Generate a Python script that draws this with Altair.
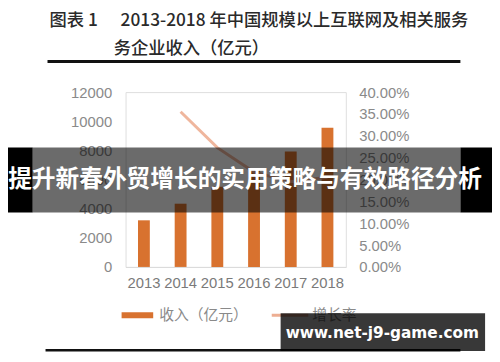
import altair as alt
import pandas as pd

years = ["2013", "2014", "2015", "2016", "2017", "2018"]
revenue = [3200, 4340, 5500, 6650, 7930, 9560]
growth_years = ["2014", "2015", "2016", "2017", "2018"]
growth = [0.355, 0.273, 0.217, 0.195, 0.205]

title_label = "图表 1"
title_line1 = "2013-2018 年中国规模以上互联网及相关服务"
title_line2 = "务企业收入（亿元）"
legend_labels = ["收入（亿元）", "增长率"]
banner_text = "提升新春外贸增长的实用策略与有效路径分析"
watermark_text = "www.net-j9-game.com"

BAR = "#D8722F"
LINE = "#EDAE92"
LABEL = "#8a8a8a"

bars_df = pd.DataFrame({"year": years, "revenue": revenue})
line_df = pd.DataFrame({"year": growth_years, "growth": growth})
one = pd.DataFrame({"k": [0]})

W, H = 223, 177

xenc = alt.X("year:N", sort=years, title=None,
             scale=alt.Scale(paddingInner=0, paddingOuter=0),
             axis=alt.Axis(labelAngle=0, ticks=False, domainColor="#d9d9d9",
                           labelFontSize=15, labelColor="#7a7a7a",
                           labelFont="Liberation Sans", labelPadding=9))

bars = alt.Chart(bars_df).mark_bar(size=12, color=BAR).encode(
    x=xenc,
    y=alt.Y("revenue:Q", title=None,
            scale=alt.Scale(domain=[0, 12000], nice=False),
            axis=alt.Axis(values=[0, 2000, 4000, 6000, 8000, 10000, 12000],
                          format="d",
                          grid=False, ticks=False, domain=False,
                          labelFontSize=15, labelColor=LABEL,
                          labelFont="Liberation Sans", labelPadding=14)),
)

line = alt.Chart(line_df).mark_line(color=LINE, strokeWidth=3, opacity=0.9).encode(
    x=alt.X("year:N", sort=years),
    y=alt.Y("growth:Q", title=None,
            scale=alt.Scale(domain=[0, 0.4], nice=False),
            axis=alt.Axis(orient="right", values=[0, 0.05, 0.1, 0.15, 0.2, 0.25, 0.3, 0.35, 0.4],
                          format=".2%", grid=False, ticks=False, domain=False,
                          labelFontSize=15, labelColor=LABEL,
                          labelFont="Liberation Sans", labelPadding=13)),
)

def txt(text, x, y, **kw):
    return alt.Chart(one).mark_text(text=text, **kw).encode(
        x=alt.value(x), y=alt.value(y))

def rect(x, x2, y, y2, **kw):
    return alt.Chart(one).mark_rect(**kw).encode(
        x=alt.value(x), x2=alt.value(x2), y=alt.value(y), y2=alt.value(y2))

# plot origin is at page (127, 91)
ox, oy = 127, 91

tstyle = dict(align="left", baseline="middle", font="Noto Sans CJK SC",
              fontSize=17.5, fontWeight=500, color="#2a2a2a")
title0 = txt(title_label, 50 - ox, 19.5 - oy, **tstyle)
title1 = txt(title_line1, 122 - ox, 19.5 - oy, **tstyle)
title2 = txt(title_line2, 115 - ox, 47 - oy, **tstyle)
top_rule = rect(48 - ox, 466 - ox, 58.5 - oy, 61.5 - oy, color="#111111")
bottom_rule = rect(46 - ox, 466 - ox, 351 - oy, 353.5 - oy, color="#111111")

leg_bar = rect(123 - ox, 155 - ox, 314 - oy, 320 - oy, color=BAR)
leg_bar_t = txt(legend_labels[0], 161 - ox, 317 - oy, align="left", baseline="middle",
                font="Noto Sans CJK SC", fontSize=15, color=LABEL)
leg_line = rect(275 - ox, 312 - ox, 315.5 - oy, 318.5 - oy, color=LINE)
leg_line_t = txt(legend_labels[1], 316 - ox, 317 - oy, align="left", baseline="middle",
                 font="Noto Sans CJK SC", fontSize=15, color=LABEL)

banner_l = rect(0 - ox, 33 - ox, 147 - oy, 213 - oy, color="#000000")
banner_m = rect(33 - ox, 466 - ox, 147 - oy, 213 - oy, color="#000000", opacity=0.58)
banner_r = rect(466 - ox, 500 - ox, 147 - oy, 213 - oy, color="#000000")
banner_t = txt(banner_text, 248 - ox, 180 - oy, align="center", baseline="middle",
               font="Noto Sans CJK SC", fontSize=24, fontWeight="bold", color="#ffffff")

wm_box = rect(284 - ox, 491 - ox, 315 - oy, 353 - oy, color="#000000", opacity=0.78)
wm_t = txt(watermark_text, 387 - ox, 335 - oy, align="center", baseline="middle",
           font="DejaVu Sans", fontSize=15.5, fontWeight="bold", color="#ffffff")

chart = alt.layer(
    bars, line,
    title0, title1, title2, top_rule, bottom_rule,
    leg_bar, leg_bar_t, leg_line, leg_line_t,
    banner_l, banner_m, banner_r, banner_t,
    wm_box, wm_t,
).resolve_scale(y="independent").properties(
    width=W, height=H,
    autosize=alt.AutoSizeParams(type="none"),
    padding={"left": 119, "top": 83, "right": 490 - 119 - W, "bottom": 346 - 83 - H},
).configure_view(stroke=None).configure(background="#ffffff")

chart.save("out.html", embed_options={"renderer": "svg", "actions": False})
